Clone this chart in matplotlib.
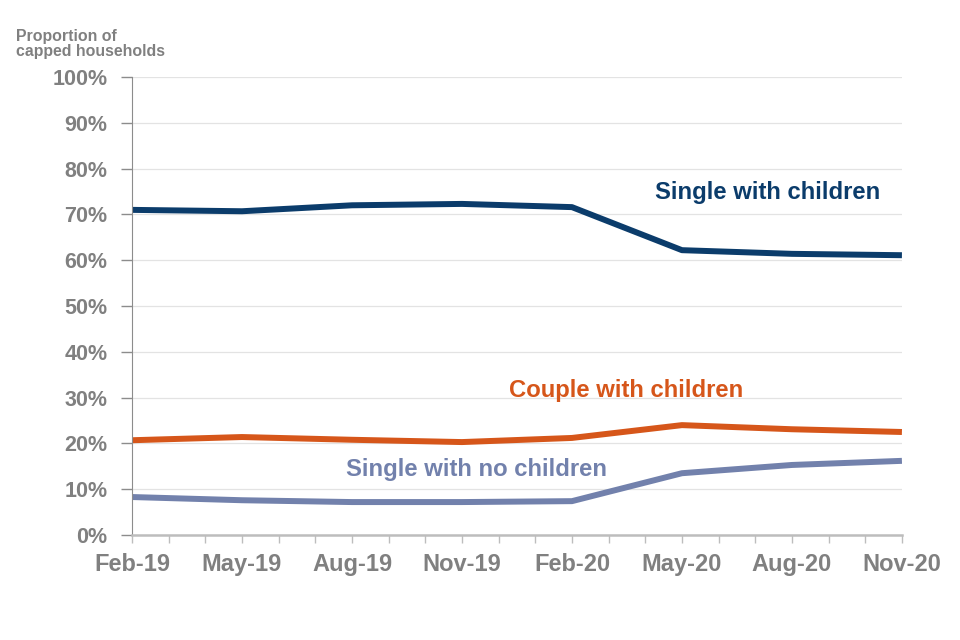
import matplotlib.pyplot as plt
import numpy as np

# quarterly points, Feb-19 .. Nov-20
quarters = ['Feb-19', 'May-19', 'Aug-19', 'Nov-19', 'Feb-20', 'May-20', 'Aug-20', 'Nov-20']
single_children = [71.0, 70.7, 72.0, 72.3, 71.6, 62.2, 61.4, 61.1]
couple_children = [20.7, 21.4, 20.8, 20.3, 21.2, 24.0, 23.1, 22.5]
single_no_children = [8.3, 7.6, 7.2, 7.2, 7.4, 13.5, 15.3, 16.2]

plt.rcParams['font.family'] = ['Liberation Sans', 'DejaVu Sans']
grey = '#808080'

fig = plt.figure(figsize=(9.6, 6.4), dpi=100)
ax = fig.add_axes([0.1375, 0.164, 0.802, 0.7156])

x = np.arange(len(quarters)) * 3  # month index
ax.plot(x, single_children, color='#0B3C6B', lw=4.3, solid_capstyle='butt')
ax.plot(x, couple_children, color='#D6561A', lw=4.3, solid_capstyle='butt')
ax.plot(x, single_no_children, color='#7281AC', lw=4.3, solid_capstyle='butt')

ax.text(14.26, 74.8, 'Single with children', color='#0B3C6B', fontsize=17.2, fontweight='bold', va='center')
ax.text(10.28, 31.5, 'Couple with children', color='#D6561A', fontsize=17.2, fontweight='bold', va='center')
ax.text(5.84, 14.4, 'Single with no children', color='#7281AC', fontsize=17.2, fontweight='bold', va='center')

ax.set_xlim(0, x[-1])
ax.set_ylim(0, 100)
ax.set_yticks(np.arange(0, 101, 10))
ax.set_yticklabels([f'{v}%' for v in range(0, 101, 10)])
ax.set_xticks(x)
ax.set_xticklabels(quarters)
ax.set_xticks(np.arange(0, x[-1] + 1), minor=True)

ax.grid(axis='y', color='#E3E3E3', lw=0.9)
ax.set_axisbelow(True)
for s in ['top', 'right']:
    ax.spines[s].set_visible(False)
ax.spines['left'].set_color('#8C8C8C')
ax.spines['bottom'].set_color('#BDBDBD')
ax.spines['bottom'].set_linewidth(1.8)

ax.tick_params(axis='y', colors='#8C8C8C', length=8, width=1, labelsize=15.5, labelcolor=grey, pad=9.5)
ax.tick_params(axis='x', which='both', direction='out', colors='#BDBDBD', length=6, width=1,
               labelsize=17, labelcolor=grey, pad=7)
for lab in ax.get_xticklabels() + ax.get_yticklabels():
    lab.set_fontweight('bold')

fig.text(0.017, 0.955, 'Proportion of\ncapped households', color=grey, fontsize=11.4,
         fontweight='bold', va='top', ha='left', linespacing=1.05)

fig.savefig('out.png', dpi=100)
